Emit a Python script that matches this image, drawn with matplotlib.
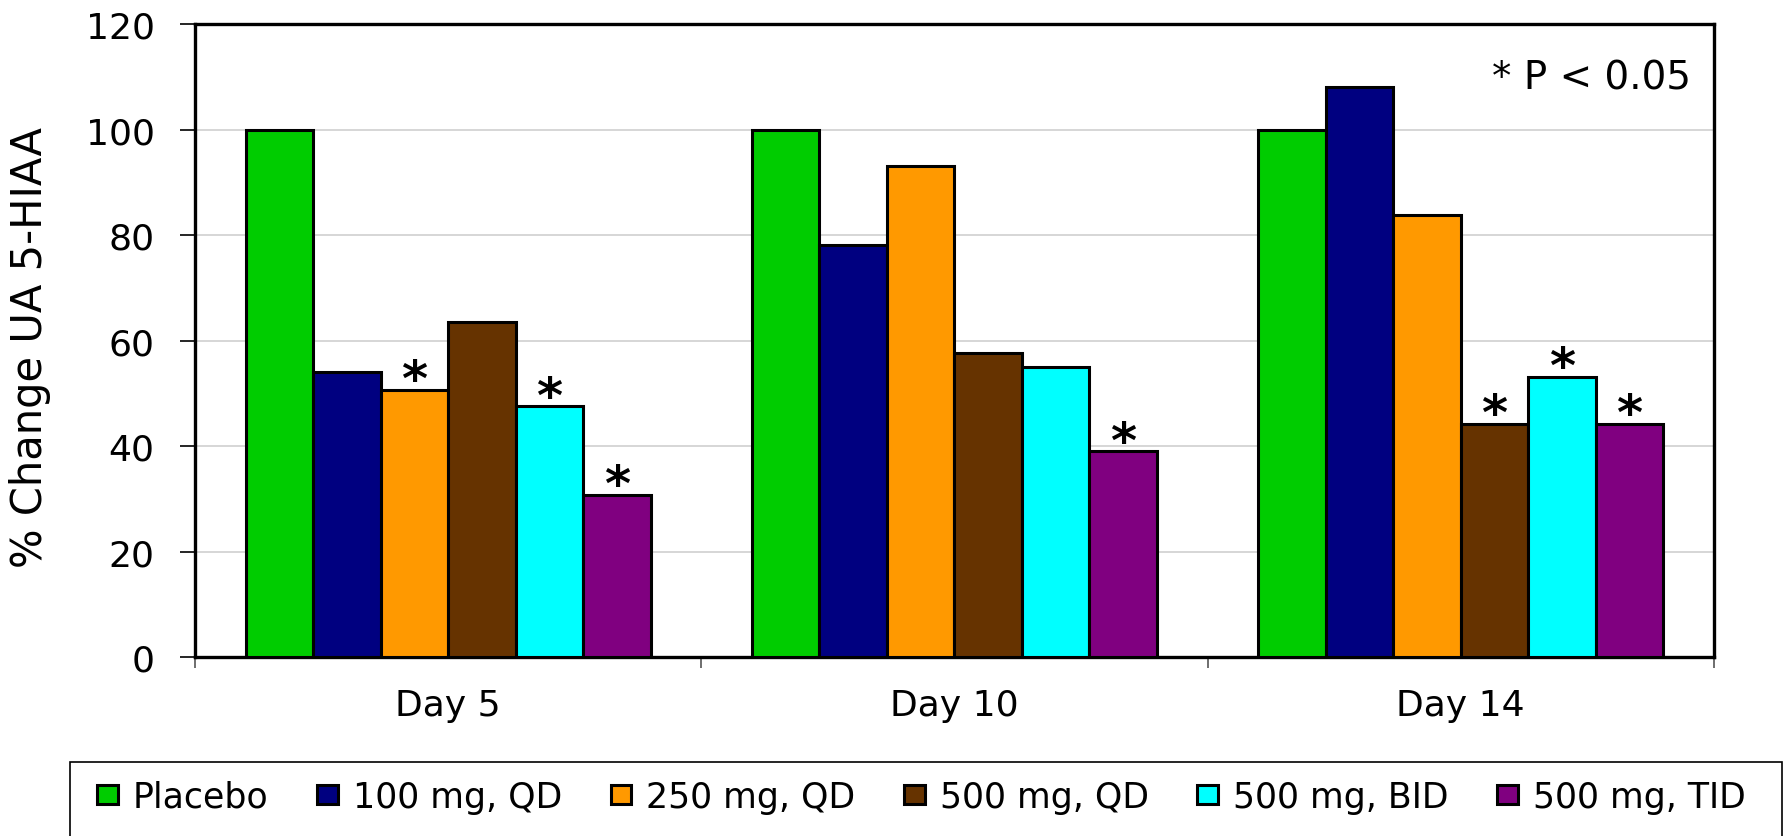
import numpy as np
import matplotlib
matplotlib.use('Agg')
import matplotlib.pyplot as plt
from matplotlib.patches import Rectangle

days = ['Day 5', 'Day 10', 'Day 14']
groups = ['Placebo', '100 mg, QD', '250 mg, QD', '500 mg, QD', '500 mg, BID', '500 mg, TID']
colors = ['#00cc00', '#000080', '#ff9900', '#663300', '#00ffff', '#800080']

# % change per dose group, one value per day
placebo = [100, 100, 100]
qd_100 = [54.0, 78.2, 108.1]
qd_250 = [50.7, 93.2, 83.9]
qd_500 = [63.6, 57.7, 44.2]
bid_500 = [47.5, 54.9, 53.1]
tid_500 = [30.8, 39.0, 44.2]
values = [placebo, qd_100, qd_250, qd_500, bid_500, tid_500]

# significance flags (P < 0.05), same layout as values
sig = [[0, 0, 0],
       [0, 0, 0],
       [1, 0, 0],
       [0, 0, 1],
       [1, 0, 1],
       [1, 1, 1]]

plt.rcParams['font.family'] = ['DejaVu Sans']

fig = plt.figure(figsize=(17.89, 8.37), dpi=100)
ax = fig.add_axes([0.109, 0.2139, 0.849, 0.756])

x = np.arange(len(days))
w = 0.8 / len(groups)
for i in range(len(groups)):
    xs = x - 0.4 + w * (i + 0.5)
    ax.bar(xs, values[i], width=w, color=colors[i], edgecolor='black',
           linewidth=2.2, zorder=3, label=groups[i])
    for j in range(len(days)):
        if sig[i][j]:
            ax.text(xs[j], values[i][j] - 1.0, '*', ha='center', va='baseline',
                    fontsize=36, fontweight='bold', zorder=4)

ax.set_xlim(-0.5, 2.5)
ax.set_ylim(0, 120)
ax.set_yticks(np.arange(0, 121, 20))
ax.yaxis.grid(True, color='#d0d0d0', linewidth=1.2, zorder=0)
ax.set_axisbelow(True)

ax.set_xticks(x)
ax.set_xticklabels(days, fontsize=26)
ax.set_xticks([-0.5, 0.5, 1.5, 2.5], minor=True)
ax.tick_params(axis='x', which='major', length=0, pad=22)
ax.tick_params(axis='x', which='minor', length=8, width=1.2, color='#555555', direction='out')
ax.tick_params(axis='y', labelsize=26, length=11, width=1.2, pad=18)

for s in ax.spines.values():
    s.set_linewidth(2.4)
    s.set_color('black')

ax.set_ylabel('% Change UA 5-HIAA', fontsize=30)
ax.yaxis.set_label_coords(-0.095, 0.49)

ax.text(0.985, 0.915, '* P < 0.05', transform=ax.transAxes, ha='right',
        va='center', fontsize=28)

# legend box runs off the bottom edge of the figure
fig.patches.append(Rectangle((70 / 1789, -0.05), (1782 - 70) / 1789, 0.05 + (837 - 763) / 837,
                             transform=fig.transFigure, fill=False, edgecolor='black',
                             linewidth=1.2))
fig.legend(loc='center', bbox_to_anchor=(0.515, 1 - 798 / 837), ncol=6, frameon=False,
           fontsize=25, handlelength=0.6, handleheight=0.46, handletextpad=0.43,
           columnspacing=1.4, borderaxespad=0)

fig.savefig('out.png', dpi=100)
